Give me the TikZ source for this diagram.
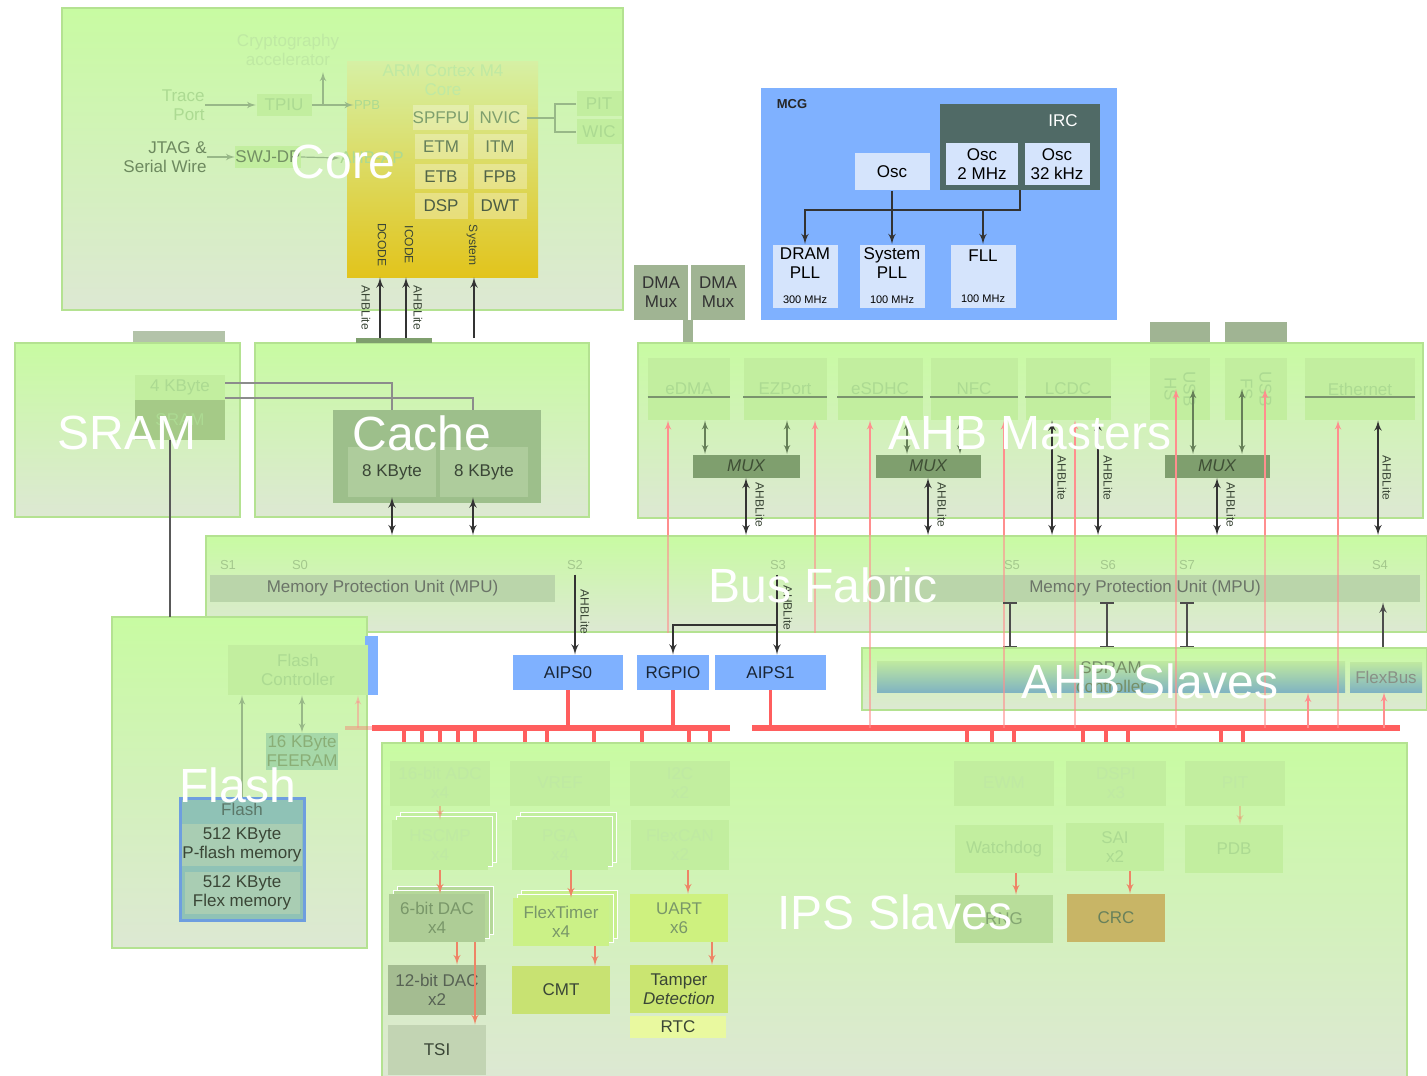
\documentclass[tikz,border=0pt]{standalone}
\usepackage{fontspec}
\setmainfont{Liberation Sans}
\usetikzlibrary{arrows,shadows}

\definecolor{pnltop}{HTML}{C8FBA2}
\definecolor{pnlbot}{HTML}{DDE8D3}
\definecolor{pnledge}{HTML}{B4E291}
\definecolor{ghostfill}{HTML}{C2EE9F}
\definecolor{ghosttext}{HTML}{ACDA92}
\definecolor{fainttext}{HTML}{BFE9A3}
\definecolor{darktext}{HTML}{3A4636}
\definecolor{mcgblue}{HTML}{7FB1FF}
\definecolor{ircgrey}{HTML}{506A66}
\definecolor{paleblue}{HTML}{D5E4FC}
\definecolor{aipstext}{HTML}{1A2636}
\definecolor{muxgreen}{HTML}{7F9F6E}
\definecolor{muxtext}{HTML}{3F4F35}
\definecolor{dmagrey}{HTML}{A0B493}
\definecolor{busred}{HTML}{FF5E5E}
\definecolor{ipsarrow}{HTML}{EE8466}
\definecolor{faintline}{HTML}{98B888}
\definecolor{armtop}{HTML}{D6F0A4}
\definecolor{armmid}{HTML}{DCDE7A}
\definecolor{armbot}{HTML}{E2C41C}
\definecolor{cachedark}{HTML}{9DBF8B}
\definecolor{cachecell}{HTML}{AECC9C}
\definecolor{mpufill}{HTML}{BAD5AA}
\definecolor{flashedge}{HTML}{6E9EDF}
\definecolor{flashfill}{HTML}{8FC2B6}
\definecolor{pflashfill}{HTML}{A9CDB3}
\definecolor{feeramfill}{HTML}{A6D8A8}
\definecolor{sdramtop}{HTML}{BFE9A0}
\definecolor{sdrambot}{HTML}{80B3C2}

\tikzset{
  sz/.style 2 args={minimum width=#1*0.5pt, minimum height=#2*0.5pt},
  panel/.style={draw=pnledge, line width=0.8pt, top color=pnltop, bottom color=pnlbot, inner sep=0pt},
  biglbl/.style={text=white, font=\fontsize{24}{26}\selectfont, inner sep=0pt},
  blk/.style={inner sep=0pt, align=center, font=\fontsize{8.5}{9.5}\selectfont, text=darktext},
  ghost/.style={blk, fill=ghostfill, text=ghosttext},
  faded/.style={blk, fill=ghostfill, text=fainttext},
  clk/.style={blk, fill=paleblue, text=black},
  aips/.style={blk, fill=mcgblue, text=aipstext},
  mux/.style={blk, fill=muxgreen, text=muxtext, font=\fontsize{8.5}{9.5}\selectfont\itshape},
  stack/.style={double copy shadow={shadow xshift=2pt, shadow yshift=2pt, fill=#1, draw=white, line width=0.4pt}},
  vlbl/.style={rotate=-90, inner sep=0pt, font=\fontsize{6}{6}\selectfont, text=darktext},
  bus/.style={draw=black!80, line width=0.8pt},
  faint/.style={draw=faintline, line width=0.6pt},
  redthin/.style={draw=busred!70, line width=0.6pt},
  redbus/.style={draw=busred, line width=3pt},
  redstub/.style={draw=busred, line width=1.6pt},
  ipsa/.style={->, draw=ipsarrow, line width=0.7pt},
}

\begin{document}
\begin{tikzpicture}[>=latex', x=0.5pt, y=-0.5pt]
\useasboundingbox[fill=white] (0,0) rectangle (1427,1075);

% bars sitting behind the panels
\node[fill=dmagrey!80!white, sz={92}{12}] (srambar) at (179,338) {};
\node[fill=dmagrey, sz={60}{20}] (usbbar1) at (1180,332) {};
\node[fill=dmagrey, sz={62}{20}] (usbbar2) at (1256,332) {};
\node[blk, fill=dmagrey, text=black!80, sz={54}{55}] (dmamux1) at (661,292.5) {DMA\\Mux};
\node[blk, fill=dmagrey, text=black!80, sz={54}{55}] (dmamux2) at (718,292.5) {DMA\\Mux};

% panels
\node[panel, sz={561}{302}] (core) at (342.5,159) {};
\node[panel, sz={225}{174}] (sram) at (127.5,430) {};
\node[panel, sz={334}{174}] (cache) at (422,430) {};
\node[panel, sz={785}{175}] (ahbm) at (1030.5,430.5) {};
\node[panel, sz={1221}{96}] (fabric) at (816.5,584) {};
\node[panel, sz={255}{331}] (flash) at (239.5,782.5) {};
\node[panel, sz={565}{62}] (ahbs) at (1144.5,679) {};
\node[panel, sz={1025}{334}] (ips) at (894.5,910) {};

\draw[line width=5pt, draw=dmagrey] (dmamux1.south east) -- (dmamux1.south east |- ahbm.north);

% core
\node[top color=armtop, middle color=armmid, bottom color=armbot, sz={191}{215}] (arm) at (442.5,169.5) {};
\node[blk, text=fainttext] (armlbl) at (443,80) {ARM Cortex M4\\Core};
\node[blk, text=fainttext] (crypto) at (288,50) {Cryptography\\accelerator};
\foreach \nm/\x/\y/\c in {SPFPU/441/118/40, NVIC/500/118/40, ETM/441/147/60, ITM/500/147/60, ETB/441/177/80, FPB/500/177/80, DSP/441/206/85, DWT/500/206/85}
  \node[blk, fill=white, fill opacity=0.3, text opacity=1, text=darktext!\c!ghosttext, sz={53}{25}] (\nm) at (\x,\y) {\nm};
\node[ghost, sz={45}{25}] (pit) at (599,104) {PIT};
\node[ghost, sz={45}{25}] (wic) at (599,132) {WIC};
\coordinate (nvicfork) at (555,118);
\draw[faint] (NVIC.east) -- (nvicfork) (pit.west) -| (nvicfork) |- (wic.west);

\node[blk, text=ghosttext, align=right, anchor=east] (trace) at (205,105) {Trace\\Port};
\node[ghost, sz={55}{22}] (tpiu) at (284,105) {TPIU};
\node[blk, text=ghosttext, font=\fontsize{6.5}{7}\selectfont] (ppb) at (367,105) {PPB};
\coordinate (ppbfork) at (323,105);
\coordinate (cryptoin) at (323,72);
\draw[faint, ->] (trace.east) -- (tpiu.west);
\draw[faint, ->] (tpiu.east) -- (ppb.west);
\draw[faint, ->] (ppbfork) -- (cryptoin);

\node[blk, text=darktext!55!ghosttext, align=right, anchor=east] (jtag) at (207,157) {JTAG \&\\Serial Wire};
\node[ghost, text=darktext!50!ghosttext, sz={62}{22}] (swjdp) at (268,157) {SWJ-DP};
\node[blk, text=ghosttext, anchor=east] (ahbap) at (404,158) {AHB-AP};
\draw[faint, ->] (jtag.east) -- (swjdp.west);
\draw[faint, ->] (swjdp.east) -- (ahbap.west);

\node[vlbl] (dcode) at (382,245) {DCODE};
\node[vlbl] (icode) at (409,245) {ICODE};
\node[vlbl] (sysbus) at (472,245) {System};
\node[fill=muxgreen, sz={76}{5}, inner sep=0pt] (corebar) at (394,340) {};
\coordinate (dcodein) at (380,338);
\coordinate (icodein) at (406,338);
\coordinate (sysin) at (474,338);
\foreach \p in {dcodein, icodein, sysin}
  \draw[bus, ->] (\p) -- (\p |- arm.south);
\node[vlbl] (dlite) at (366,308) {AHBLite};
\node[vlbl] (ilite) at (418,308) {AHBLite};

% sram
\node[ghost, sz={90}{25}] (sram4k) at (180,387) {4 KByte};
\node[ghost, fill=ghostfill!85!black, sz={90}{40}] (sramblk) at (180,420) {SRAM};
\coordinate (cachetap1) at (392,410);
\coordinate (cachetap2) at (473,410);
\draw[faint, draw=black!45] ([yshift=2pt]sram4k.east) -| (cachetap1);
\draw[faint, draw=black!45] ([yshift=-5.5pt]sram4k.east) -| (cachetap2);
\coordinate (sramtap) at (170,440);
\coordinate (flashtap) at (170,617);
\draw[line width=1.2pt, draw=black!65] (sramtap) -- (flashtap);

% cache
\node[fill=cachedark, sz={208}{93}] (cachearr) at (437,456.5) {};
\node[blk, fill=cachecell, sz={88}{50}] (cachea) at (392,472) {8 KByte};
\node[blk, fill=cachecell, sz={88}{50}] (cacheb) at (484,472) {8 KByte};
\draw[bus, <->] (cachea.south) -- (cachea.south |- fabric.north);
\draw[bus, <->] ([xshift=-5.5pt]cacheb.south) -- ([xshift=-5.5pt]cacheb.south |- fabric.north);

% clock generator
\node[fill=mcgblue, sz={356}{232}] (mcg) at (939,204) {};
\node[blk, text=black!85, font=\fontsize{6.5}{7}\selectfont\bfseries] (mcglbl) at (792,104) {MCG};
\node[fill=ircgrey, sz={160}{86}] (irc) at (1020,147) {};
\node[blk, text=white] (irclbl) at (1063,121) {IRC};
\node[clk, sz={72}{42}] (osc2m) at (982,164) {Osc\\2 MHz};
\node[clk, sz={65}{42}] (osc32k) at (1057,164) {Osc\\32 kHz};
\node[clk, sz={75}{37}] (osc) at (892,172) {Osc};
\node[clk, sz={65}{63}] (drampll) at (805,276) {DRAM\\PLL\\[3pt]{\fontsize{5.5}{6}\selectfont 300 MHz}};
\node[clk, sz={65}{63}] (syspll) at (892,276) {System\\PLL\\[3pt]{\fontsize{5.5}{6}\selectfont 100 MHz}};
\node[clk, sz={65}{63}] (fll) at (983,276) {FLL\\[11pt]{\fontsize{5.5}{6}\selectfont 100 MHz}};
\coordinate (clkbus) at (1020,210);
\draw[bus, ->] (irc.south) -- (clkbus) -| (drampll.north);
\draw[bus, ->] (osc.south) -- (syspll.north);
\draw[bus, ->] (fll.north |- clkbus) -- (fll.north);

% ahb masters
\foreach \nm/\x/\w in {eDMA/689/82, EZPort/785/83, eSDHC/880/85, NFC/974/87, LCDC/1068/85, Ethernet/1360/110}
{
  \node[ghost, sz={\w}{62}] (\nm) at (\x,389) {\nm};
  \draw[faint, draw=faintline!80!black] ([yshift=-4pt]\nm.west) -- ([yshift=-4pt]\nm.east);
}
\node[ghost, rotate=-90, sz={62}{60}] (usbhs) at (1180,389) {USB\\HS};
\node[ghost, rotate=-90, sz={62}{62}] (usbfs) at (1256,389) {USB\\FS};
\node[mux, sz={107}{23}] (mux1) at (746,466) {MUX};
\node[mux, sz={105}{23}] (mux2) at (928,466) {MUX};
\node[mux, sz={105}{23}] (mux3) at (1217,466) {MUX};
\foreach \x/\m/\u in {705/eDMA/mux1, 787/EZPort/mux1, 907/eSDHC/mux2, 960/NFC/mux2, 1193/usbhs/mux3, 1242/usbfs/mux3}
  \draw[faint, draw=muxgreen!80!black, <->] (\x,0 |- \m.south) -- (\x,0 |- \u.north);
\foreach \m in {mux1, mux2, mux3}
  \draw[bus, <->] (\m.south) -- (\m.south |- fabric.north);
\node[vlbl] (lite1) at (760,505) {AHBLite};
\node[vlbl] (lite2) at (942,505) {AHBLite};
\node[vlbl] (lite3) at (1231,505) {AHBLite};
\foreach \x/\m in {1052/LCDC, 1098/LCDC, 1378/Ethernet}
  \draw[bus, <->] (\x,0 |- \m.south) -- (\x,0 |- fabric.north);
\node[vlbl] (lite4) at (1062,478) {AHBLite};
\node[vlbl] (lite5) at (1108,478) {AHBLite};
\node[vlbl] (lite6) at (1387,478) {AHBLite};
\foreach \x/\m in {668/eDMA, 815/EZPort, 870/eSDHC, 1004/NFC, 1075/LCDC, 1176/usbhs, 1265/usbfs, 1338/Ethernet}
  \draw[redthin, ->] (\x,0 |- fabric.north) -- (\x,0 |- \m.south);

% bus fabric
\foreach \s/\x in {S1/228, S0/300, S2/575, S3/778, S5/1012, S6/1108, S7/1187, S4/1380}
  \node[blk, text=fainttext!80!darktext, font=\fontsize{6.5}{7}\selectfont] (slot\s) at (\x,565) {\s};
\node[blk, fill=mpufill, text=darktext!75!white, sz={345}{27}] (mpul) at (382.5,588.5) {Memory Protection Unit (MPU)};
\node[blk, fill=mpufill, text=darktext!75!white, sz={550}{27}] (mpur) at (1145,588.5) {Memory Protection Unit (MPU)};
\foreach \x in {668, 815, 870, 1004, 1075, 1176, 1265, 1338}
  \draw[redthin, opacity=0.6] (\x,0 |- fabric.north) -- (\x,0 |- fabric.south);

% peripheral bridges
\node[aips, sz={110}{35}] (aips0) at (568,672.5) {AIPS0};
\node[aips, sz={72}{35}] (rgpio) at (673,672.5) {RGPIO};
\node[aips, sz={111}{35}] (aips1) at (770.5,672.5) {AIPS1};
\draw[bus, ->] (575,0 |- mpul.north) -- (575,0 |- aips0.north);
\draw[bus, ->] (777,0 |- mpul.north) -- (777,0 |- aips1.north);
\coordinate (s3fork) at (777,625);
\draw[bus, ->] (s3fork) -| (rgpio.north);
\node[vlbl] (lite7) at (585,612) {AHBLite};
\node[vlbl] (lite8) at (788,608) {AHBLite};

% ahb slaves
\node[blk, top color=sdramtop, bottom color=sdrambot, text=darktext!55!sdramtop, sz={468}{30}] (sdram) at (1111,677) {SDRAM\\controller};
\node[blk, top color=sdramtop, bottom color=sdrambot, text=darktext!60!white, sz={72}{30}] (flexbus) at (1386,677) {FlexBus};
\foreach \x in {1010, 1107, 1187}
  \draw[bus, draw=black!70, |-|] (\x,0 |- mpur.south) -- (\x,0 |- ahbs.north);
\draw[bus, draw=black!70, ->] (1383,0 |- ahbs.north) -- (1383,0 |- mpur.south);

% flash
\node[fill=mcgblue, sz={9}{59}] (flashstrip) at (371.5,665.5) {};
\node[ghost, sz={140}{50}] (flashctl) at (298,670) {Flash\\Controller};
\node[blk, fill=feeramfill, text=ghosttext!70!darktext, sz={72}{37}] (feeram) at (302,751.5) {16 KByte\\FEERAM};
\node[draw=flashedge, line width=1.5pt, fill=flashfill, sz={124}{122}] (flashmem) at (242,859) {};
\node[blk, text=darktext!60!flashfill] (flashhdr) at (242,809) {Flash};
\node[blk, fill=pflashfill, sz={115}{42}] (pflash) at (242,845) {512 KByte\\P-flash memory};
\node[blk, fill=pflashfill, sz={115}{42}] (flexmem) at (242,893) {512 KByte\\Flex memory};
\draw[faint, ->] (flashmem.north) -- (flashmem.north |- flashctl.south);
\draw[faint, <->] (feeram.north) -- (feeram.north |- flashctl.south);

% ips slaves
\foreach \nm/\x/\t in {adc/440/{16-bit ADC\\x4}, vref/560/VREF, iic/680/{I2C\\x2}, ewm/1004/EWM, dspi/1116/{DSPI\\x3}, pitb/1235/PIT}
  \node[faded, sz={100}{45}] (\nm) at (\x,783) {\t};
\node[faded, stack=ghostfill, sz={96}{50}] (hscmp) at (440,845) {HSCMP\\x4};
\node[faded, stack=ghostfill, sz={96}{50}] (pga) at (560,845) {PGA\\x4};
\node[faded, sz={98}{50}] (flexcan) at (680,845) {FlexCAN\\x2};
\node[ghost, sz={98}{48}] (wdog) at (1004,849) {Watchdog};
\node[ghost, sz={98}{48}] (sai) at (1115,847) {SAI\\x2};
\node[ghost, sz={98}{48}] (pdb) at (1234,849) {PDB};
\node[blk, stack=ghostfill!80!gray, fill=ghostfill!70!gray, text=darktext!45!ghosttext, sz={96}{48}] (dac6) at (437,918) {6-bit DAC\\x4};
\node[blk, stack=ghostfill!90!yellow, fill=ghostfill!85!yellow, text=darktext!45!ghosttext, sz={96}{48}] (ftm) at (561,922) {FlexTimer\\x4};
\node[blk, fill=ghostfill!80!yellow, text=darktext!45!ghosttext, sz={98}{48}] (uart) at (679,918) {UART\\x6};
\node[blk, fill=ghostfill!85!gray, text=darktext!35!ghosttext, sz={98}{48}] (rng) at (1004,919) {RNG};
\node[blk, fill=ghostfill!60!orange!80!gray, text=darktext!60!ghosttext, sz={98}{48}] (crc) at (1116,918) {CRC};
\node[blk, fill=ghostfill!55!gray, text=darktext!85!white, sz={98}{50}] (dac12) at (437,990) {12-bit DAC\\x2};
\node[blk, fill=ghostfill!70!yellow!85!gray, text=darktext, sz={98}{48}] (cmt) at (561,990) {CMT};
\node[blk, fill=ghostfill!70!yellow!88!gray, text=darktext, sz={98}{48}] (tamper) at (679,989) {Tamper\\\textit{Detection}};
\node[blk, fill=ghostfill!60!yellow!60!white, text=darktext, sz={96}{22}] (rtc) at (678,1027) {RTC};
\node[blk, fill=ghostfill!60!gray!70!white, text=darktext, sz={98}{50}] (tsi) at (437,1050) {TSI};
\draw[ipsa, opacity=0.5] (adc.south) -- (adc.south |- hscmp.north);
\draw[ipsa] (hscmp.south) -- (hscmp.south |- dac6.north);
\draw[ipsa] (457,0 |- dac6.south) -- (457,0 |- dac12.north);
\draw[ipsa] (475,0 |- dac6.south) -- (475,0 |- tsi.north);
\draw[ipsa] (571,0 |- pga.south) -- (571,0 |- ftm.north);
\draw[ipsa] (595,0 |- ftm.south) -- (595,0 |- cmt.north);
\draw[ipsa] (688,0 |- flexcan.south) -- (688,0 |- uart.north);
\draw[ipsa] (712,0 |- uart.south) -- (712,0 |- tamper.north);
\draw[ipsa] (1016,0 |- wdog.south) -- (1016,0 |- rng.north);
\draw[ipsa] (1130,0 |- sai.south) -- (1130,0 |- crc.north);
\draw[ipsa, opacity=0.4] (1240,0 |- pitb.south) -- (1240,0 |- pdb.north);

% peripheral bus
\coordinate (rbl0) at (372,728);
\coordinate (rbl1) at (730,728);
\coordinate (rbr0) at (752,728);
\coordinate (rbr1) at (1400,728);
\draw[redbus] (rbl0) -- (rbl1);
\draw[redbus] (rbr0) -- (rbr1);
\draw[redstub, opacity=0.35] (345,728) -- (rbl0);
\foreach \n in {aips0, rgpio, aips1}
  \draw[redstub] (\n.south) -- (\n.south |- rbl0);
\foreach \x in {404,422,440,458,475,525,547,594,642,689,710,967,992,1014,1083,1106,1128,1221,1243}
  \draw[redstub] (\x,0 |- rbl0) -- (\x,742);
\foreach \x in {870, 1004, 1075, 1176, 1265, 1338}
  \draw[redthin, opacity=0.6] (\x,0 |- fabric.south) -- (\x,0 |- rbr0);
\draw[redthin, ->] (1308,0 |- rbr0) -- (1308,0 |- sdram.south);
\draw[redthin, ->] (1384,0 |- rbr0) -- (1384,0 |- flexbus.south);
\draw[redthin, opacity=0.5, ->] (358,0 |- rbl0) -- (358,0 |- flashctl.south);

% titles
\node[biglbl] (corelbl) at (343,162) {Core};
\node[biglbl] (sramlbl) at (127,433) {SRAM};
\node[biglbl] (cachelbl) at (422,433) {Cache};
\node[biglbl] (ahbmlbl) at (1030,433) {AHB Masters};
\node[biglbl] (fabriclbl) at (823,585) {Bus Fabric};
\node[biglbl] (flashlbl) at (238,785) {Flash};
\node[biglbl] (ahbslbl) at (1150,681) {AHB Slaves};
\node[biglbl] (ipslbl) at (895,912) {IPS Slaves};
\end{tikzpicture}
\end{document}
